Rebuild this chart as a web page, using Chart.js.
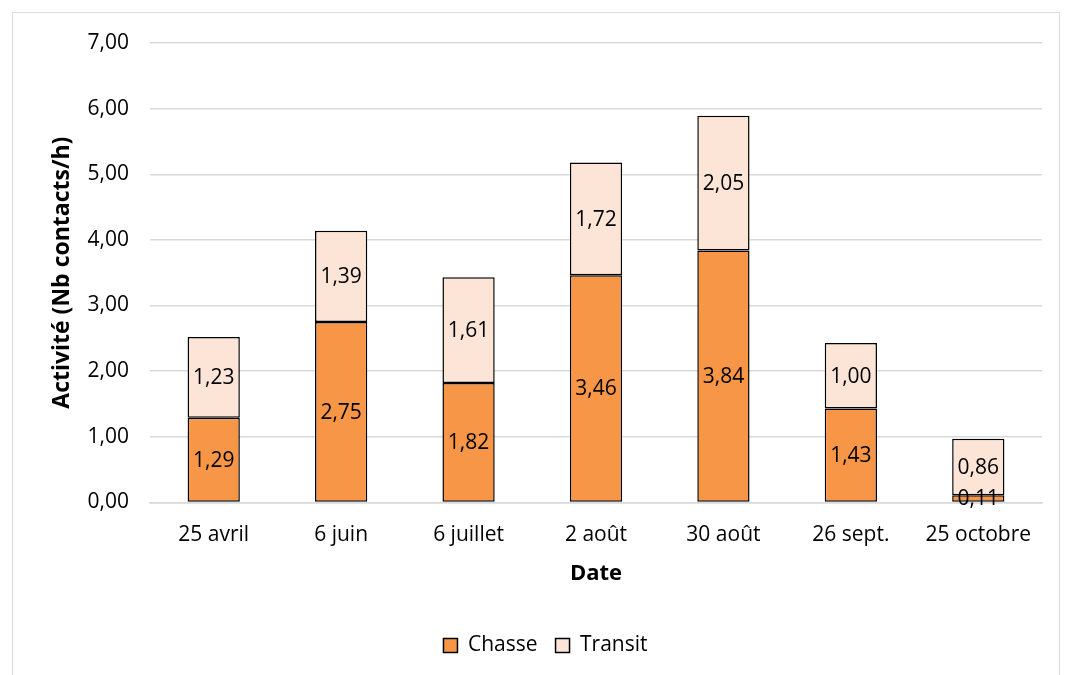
<!DOCTYPE html>
<html>
<head>
<meta charset="utf-8">
<script src="https://cdn.jsdelivr.net/npm/chart.js@4"></script>
<style>
  html, body { margin: 0; padding: 0; background: #fff; }
  #wrap { position: relative; width: 1065px; height: 675px; }
  #frame { position: absolute; left: 12px; top: 12px; width: 1048px; height: 670px; border: 1.5px solid #d9d9d9; box-sizing: border-box; pointer-events: none; }
  canvas { position: absolute; left: 0; top: 0; }
</style>
</head>
<body>
<div id="wrap">
  <canvas id="c" width="1065" height="675"></canvas>
  <div id="frame"></div>
</div>
<script>
// Dates of the survey sessions
const categories = ['25 avril', '6 juin', '6 juillet', '2 août', '30 août', '26 sept.', '25 octobre'];
// Activity (contacts per hour) by behaviour
const chasse = [1.29, 2.75, 1.82, 3.46, 3.84, 1.43, 0.11];
const transit = [1.23, 1.39, 1.61, 1.72, 2.05, 1.00, 0.86];
const yTicks = [0, 1, 2, 3, 4, 5, 6, 7];

const FONT = '"Open Sans", "Noto Sans", sans-serif';
const fmt = v => v.toFixed(2).replace('.', ',');

// Writes each segment's value in the middle of its bar
const segmentLabels = {
  id: 'segmentLabels',
  afterDatasetsDraw(chart) {
    const ctx = chart.ctx;
    ctx.save();
    ctx.font = '21px ' + FONT;
    ctx.fillStyle = '#000';
    ctx.textAlign = 'center';
    ctx.textBaseline = 'middle';
    chart.data.datasets.forEach((ds, i) => {
      const meta = chart.getDatasetMeta(i);
      meta.data.forEach((bar, j) => {
        const y = (bar.y + bar.base) / 2;
        ctx.fillText(fmt(ds.data[j]), bar.x, y + 1);
      });
    });
    ctx.restore();
  }
};

new Chart(document.getElementById('c'), {
  type: 'bar',
  data: {
    labels: categories,
    datasets: [
      { label: 'Chasse', data: chasse, backgroundColor: '#F79646', borderColor: '#000', borderWidth: 1.5, borderSkipped: false },
      { label: 'Transit', data: transit, backgroundColor: '#FCE4D6', borderColor: '#000', borderWidth: 1.5, borderSkipped: false }
    ]
  },
  options: {
    responsive: false,
    animation: false,
    layout: { padding: { left: 49, right: 23, top: 43, bottom: 9 } },
    datasets: { bar: { barPercentage: 0.41, categoryPercentage: 1.0 } },
    plugins: {
      legend: {
        position: 'bottom',
        labels: { font: { family: FONT, size: 21 }, color: '#000', boxWidth: 14, boxHeight: 14, padding: 18 }
      },
      tooltip: { enabled: false }
    },
    scales: {
      x: {
        stacked: true,
        grid: { display: false, drawTicks: false },
        border: { display: true, color: '#d9d9d9', width: 1.5 },
        ticks: { font: { family: FONT, size: 21 }, color: '#000', padding: 20 },
        title: { display: true, text: 'Date', font: { family: FONT, size: 22, weight: 'bold' }, color: '#000', padding: { top: -7, bottom: 30 } }
      },
      y: {
        stacked: true,
        min: 0, max: 7,
        afterBuildTicks(scale) { scale.ticks = yTicks.map(v => ({ value: v })); },
        afterFit(scale) { scale.width = 101; },
        grid: { color: '#d9d9d9', lineWidth: 1.5, drawTicks: false },
        border: { display: false },
        ticks: { font: { family: FONT, size: 21 }, color: '#000', padding: 21, callback: v => fmt(v) },
        title: { display: true, text: 'Activité (Nb contacts/h)', font: { family: FONT, size: 23, weight: 'bold' }, color: '#000', padding: { top: 0, bottom: 6 } }
      }
    }
  },
  plugins: [segmentLabels]
});
</script>
</body>
</html>
